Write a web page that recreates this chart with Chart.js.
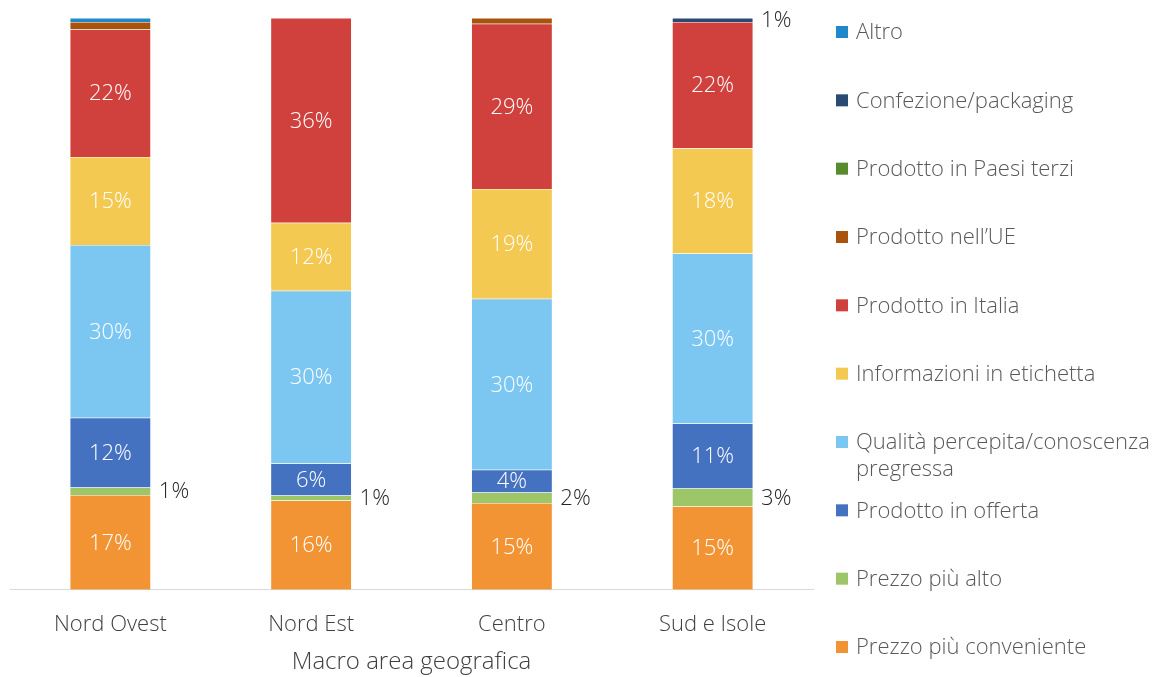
<!DOCTYPE html>
<html>
<head>
<meta charset="utf-8">
<script src="https://cdn.jsdelivr.net/npm/chart.js@4"></script>
<style>
  html, body { margin: 0; padding: 0; background: #fff; }
  #wrap { width: 1169px; height: 677px; position: relative; }
</style>
</head>
<body>
<div id="wrap"><canvas id="myChart"></canvas></div>
<script>
const categories = ['Nord Ovest', 'Nord Est', 'Centro', 'Sud e Isole'];

// stack order, bottom to top
const prezzoConveniente = [16.6, 15.6, 15.2, 14.6];
const prezzoAlto = [1.3, 0.9, 1.8, 3.1];
const offerta = [12.2, 5.6, 4.0, 11.4];
const qualita = [30.2, 30.2, 29.9, 29.7];
const informazioni = [15.4, 11.9, 19.2, 18.4];
const italia = [22.3, 35.8, 28.9, 22.1];
const ue = [1.3, 0, 1.0, 0];
const paesiTerzi = [0, 0, 0, 0];
const confezione = [0, 0, 0, 0.7];
const altro = [0.7, 0, 0, 0];

const FONT = "'Open Sans', 'DejaVu Sans', sans-serif";
const WEIGHT = 300;

const ctx = document.querySelector('#myChart').getContext('2d');

const mk = (label, data, color, labelMode) => ({
  label,
  data,
  backgroundColor: color,
  borderColor: 'rgba(255, 255, 255, 0.35)',
  borderWidth: 0.5,
  labelMode,
});

const datasets = [
  mk('Prezzo più conveniente', prezzoConveniente, '#f39434', 'inside'),
  mk('Prezzo più alto', prezzoAlto, '#9dc668', 'outside'),
  mk('Prodotto in offerta', offerta, '#4472c0', 'inside'),
  mk(['Qualità percepita/conoscenza', 'pregressa'], qualita, '#7cc6f2', 'inside'),
  mk('Informazioni in etichetta', informazioni, '#f3c951', 'inside'),
  mk('Prodotto in Italia', italia, '#d0413e', 'inside'),
  mk('Prodotto nell\u2019UE', ue, '#a8540e', 'none'),
  mk('Prodotto in Paesi terzi', paesiTerzi, '#588a2e', 'none'),
  mk('Confezione/packaging', confezione, '#2a4a72', 'outside'),
  mk('Altro', altro, '#1f88c8', 'none'),
];

// value labels on the segments
const segmentLabels = {
  id: 'segmentLabels',
  afterDatasetsDraw(chart) {
    const c = chart.ctx;
    c.save();
    c.font = WEIGHT + ' 22px ' + FONT;
    c.textBaseline = 'middle';
    chart.data.datasets.forEach((ds, i) => {
      if (ds.labelMode === 'none') return;
      chart.getDatasetMeta(i).data.forEach((bar, j) => {
        const v = ds.data[j];
        if (!v) return;
        const txt = Math.round(v) + '%';
        const yc = (bar.y + bar.base) / 2;
        if (ds.labelMode === 'inside') {
          c.fillStyle = '#ffffff';
          c.textAlign = 'center';
          c.fillText(txt, bar.x, yc + 1);
        } else {
          c.fillStyle = '#262626';
          c.textAlign = 'left';
          c.fillText(txt, bar.x + bar.width / 2 + 8, yc + 1);
        }
      });
    });
    c.restore();
  },
};

// legend on the right, evenly spread over the full height
const sideLegend = {
  id: 'sideLegend',
  afterDraw(chart) {
    const c = chart.ctx;
    const items = chart.data.datasets.slice().reverse();
    const top = 32;
    const step = (chart.height - 62) / (items.length - 1);
    c.save();
    c.font = WEIGHT + ' 22px ' + FONT;
    c.textBaseline = 'middle';
    c.textAlign = 'left';
    items.forEach((ds, k) => {
      const y = top + k * step;
      c.fillStyle = ds.backgroundColor;
      c.fillRect(836, y - 6, 12, 12);
      c.fillStyle = '#595959';
      const lines = Array.isArray(ds.label) ? ds.label : [ds.label];
      lines.forEach((t, n) => c.fillText(t, 856, y + 1 + n * 27));
    });
    c.restore();
  },
};

new Chart(ctx, {
  type: 'bar',
  data: { labels: categories, datasets },
  options: {
    responsive: true,
    maintainAspectRatio: false,
    animation: false,
    layout: { padding: { left: 10, right: 356, top: 18, bottom: 0 } },
    plugins: {
      legend: { display: false },
      tooltip: { enabled: false },
    },
    datasets: {
      bar: { categoryPercentage: 0.403, barPercentage: 1 },
    },
    scales: {
      x: {
        stacked: true,
        grid: { display: false, drawTicks: false },
        border: { display: true, color: '#d9d9d9', width: 1 },
        ticks: {
          color: '#404040',
          padding: 22,
          font: { family: FONT, size: 22, weight: WEIGHT },
        },
        title: {
          display: true,
          text: 'Macro area geografica',
          color: '#404040',
          padding: { top: -12, bottom: 0 },
          font: { family: FONT, size: 24, weight: WEIGHT },
        },
      },
      y: {
        stacked: true,
        display: false,
        min: 0,
        max: 100,
      },
    },
  },
  plugins: [segmentLabels, sideLegend],
});
</script>
</body>
</html>
